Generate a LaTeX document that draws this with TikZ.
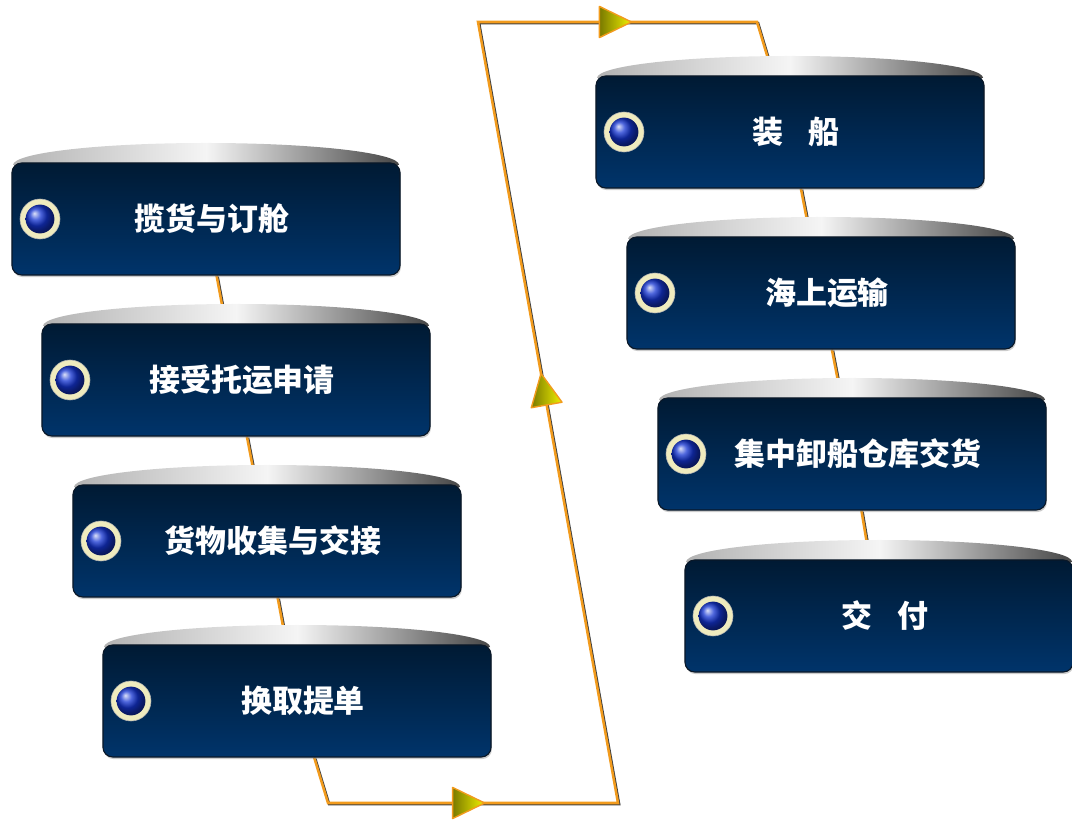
\documentclass[tikz,border=0pt]{standalone}
\usepackage{fontspec}
\newfontfamily\cjk{Noto Sans CJK SC}
\usepackage{xcolor}
\usepackage{tikz}
\usetikzlibrary{positioning, arrows.meta, decorations.markings, shadows}
\definecolor{bTop}{HTML}{001A33}
\definecolor{bBot}{HTML}{00346B}
\definecolor{bEdge}{HTML}{0A1828}
\definecolor{lOrange}{HTML}{F29B1D}
\definecolor{aYellow}{HTML}{F0F000}
\definecolor{aOlive}{HTML}{7A7A00}
\definecolor{rCream}{HTML}{EFEBBE}
\definecolor{bBlue}{HTML}{1434D2}
\pgfdeclarelayer{bg}
\pgfdeclarelayer{mid}
\pgfsetlayers{bg,mid,main}
\tikzset{
  stagebox/.style={rounded corners=7pt, top color=bTop, bottom color=bBot, draw=bEdge, thick,
    minimum width=9.7cm, minimum height=2.8cm, text=white, font=\cjk\bfseries\fontsize{22}{26}\selectfont,
    drop shadow={opacity=0.4, shadow xshift=0.6pt, shadow yshift=-1.5pt}},
  capshade/.style={left color=gray!60, right color=gray!55!black, middle color=white!92!gray},
  flow/.style={draw=lOrange, line width=1.8pt,
    preaction={draw=black!75, line width=1.8pt, transform canvas={shift={(0.8pt,-0.8pt)}}}},
  midarrow/.style={postaction={decorate, decoration={markings, mark=at position #1 with {
    \shade[left color=aOlive, right color=aYellow, draw=lOrange, line width=1pt, line join=round]
      (0,0) -- (-0.8cm,0.39cm) -- (-0.8cm,-0.39cm) -- cycle;}}}}
}
\begin{document}
\begin{tikzpicture}[x=0.025cm, y=-0.025cm, >=Stealth]
  \useasboundingbox (0,0) rectangle (1072,820);
  % stages
  \foreach \x/\y/\nm/\txt in {206/219/n1/揽货与订舱, 236/380/n2/接受托运申请, 267/541/n3/货物收集与交接, 297/701/n4/换取提单,
      790/132/n5/装\hspace{0.8em}船, 821/293/n6/海上运输, 852/454/n7/集中卸船仓库交货, 879/616/n8/交\hspace{0.8em}付} {
    \node[stagebox, text width=8.4cm, align=center] (\nm) at (\x,\y) {\hspace*{0.3cm}\txt};
    \begin{pgfonlayer}{mid}
      \shade[capshade] (\x-193,\y-54) arc[start angle=180, end angle=0, x radius=4.825cm, y radius=0.55cm] -- cycle;
    \end{pgfonlayer}
    \fill[rCream, draw=gray!60] (\x-166,\y) circle[radius=0.5cm];
    \shade[ball color=bBlue] (\x-166,\y) circle[radius=0.36cm];
  }
  % links
  \coordinate (b1) at (328,803);
  \coordinate (b2) at (618,803);
  \coordinate (t1) at (478,22);
  \coordinate (t2) at (757,22);
  \begin{pgfonlayer}{bg}
    \foreach \a/\b in {n1/n2, n2/n3, n3/n4, n5/n6, n6/n7, n7/n8}
      \draw[flow] (\a) -- (\b);
    \draw[flow] (n4) -- (b1) -- (b2) -- (t1) -- (t2) -- (n5);
  \end{pgfonlayer}
  \path[midarrow=0.54] (b1) -- (b2);
  \path[midarrow=0.55] (b2) -- (t1);
  \path[midarrow=0.55] (t1) -- (t2);
\end{tikzpicture}
\end{document}
